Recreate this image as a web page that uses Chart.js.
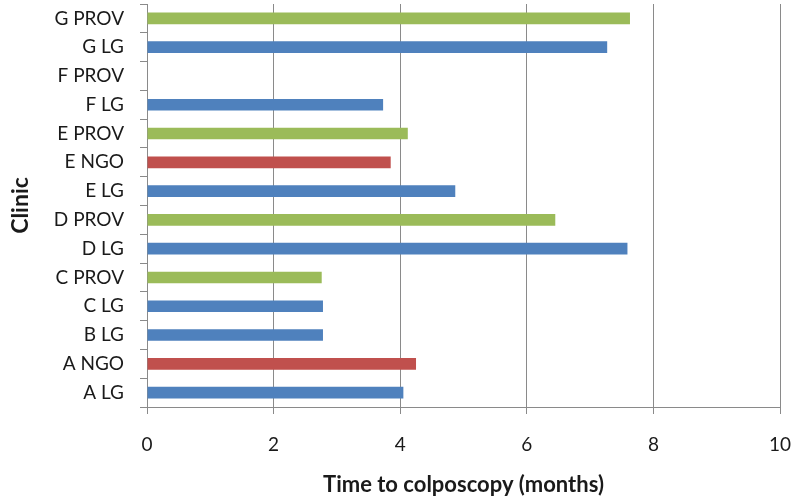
<!DOCTYPE html>
<html>
<head>
<meta charset="utf-8">
<script src="https://cdn.jsdelivr.net/npm/chart.js@4/dist/chart.umd.min.js"></script>
<style>
  html, body { margin: 0; padding: 0; background: #fff; }
  #wrap { width: 793px; height: 499px; position: relative; }
</style>
</head>
<body>
<div id="wrap"><canvas id="chart" width="793" height="499"></canvas></div>
<script>
// Clinics, listed top to bottom
const clinics = ['G PROV', 'G LG', 'F PROV', 'F LG', 'E PROV', 'E NGO', 'E LG',
                 'D PROV', 'D LG', 'C PROV', 'C LG', 'B LG', 'A NGO', 'A LG'];
// Mean time to colposcopy in months (F PROV has no value)
const months = [7.63, 7.27, null, 3.73, 4.12, 3.85, 4.87,
                6.45, 7.59, 2.76, 2.78, 2.78, 4.25, 4.05];
// X axis range and tick step
const xTicks = { min: 0, max: 10, step: 2 };

// Fill colour by facility type (last word of the label)
const typeColours = { LG: '#4F81BD', NGO: '#C0504D', PROV: '#9BBB59' };
const barColours = clinics.map(c => typeColours[c.split(' ').pop()]);

const FONT = 'Lato, "Liberation Sans", sans-serif';
const GRID = '#8a8a8a';
const TEXT = '#1a1a1a';

// Keep the plot area edges fixed: no extra room reserved for overhanging labels
function noLabelOverhang(scale) {
  scale.paddingTop = 0;
  scale.paddingBottom = 0;
  scale.paddingLeft = 0;
  scale.paddingRight = 0;
}

new Chart(document.getElementById('chart'), {
  type: 'bar',
  data: {
    labels: clinics,
    datasets: [{
      data: months,
      backgroundColor: barColours,
      borderWidth: 0,
      barPercentage: 0.405,
      categoryPercentage: 1.0
    }]
  },
  options: {
    indexAxis: 'y',
    responsive: false,
    animation: false,
    devicePixelRatio: 1,
    layout: { padding: { top: 4, right: 13, bottom: 0, left: 0 } },
    plugins: { legend: { display: false }, tooltip: { enabled: false } },
    scales: {
      x: {
        min: xTicks.min,
        max: xTicks.max,
        ticks: {
          stepSize: xTicks.step,
          color: TEXT,
          font: { family: FONT, size: 19 },
          padding: 19
        },
        grid: { color: GRID, lineWidth: 1, tickLength: 7, drawTicks: true },
        border: { display: true, color: GRID, width: 1 },
        title: {
          display: true,
          text: 'Time to colposcopy (months)',
          color: TEXT,
          font: { family: FONT, size: 22, weight: 'bold' },
          padding: { top: 0, bottom: 1 }
        },
        afterFit(scale) { scale.height = 92; noLabelOverhang(scale); }
      },
      y: {
        ticks: {
          color: TEXT,
          font: { family: FONT, size: 19 },
          padding: 16
        },
        grid: { drawOnChartArea: false, drawTicks: true, tickLength: 7, color: GRID, offset: true },
        border: { display: true, color: GRID, width: 1 },
        title: {
          display: true,
          text: 'Clinic',
          color: TEXT,
          font: { family: FONT, size: 23, weight: 'bold' },
          padding: { top: 7, bottom: 0 }
        },
        afterFit(scale) { scale.width = 147; noLabelOverhang(scale); }
      }
    }
  }
});
</script>
</body>
</html>
